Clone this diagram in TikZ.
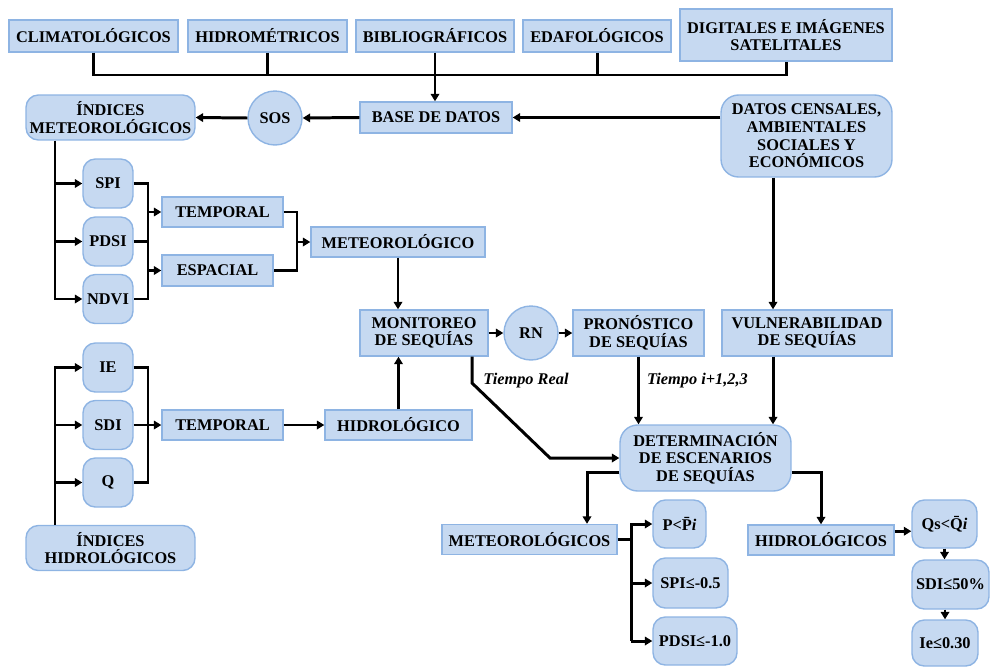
\documentclass[tikz,border=0pt]{standalone}
\usepackage{fontspec}
\setmainfont{Liberation Serif}
\usepackage{tikz}
\usetikzlibrary{shapes, arrows.meta}

\definecolor{boxfill}{RGB}{198,217,241}
\definecolor{boxline}{RGB}{142,180,227}

\begin{document}
\begin{tikzpicture}[x=0.02cm, y=-0.02cm, line width=1.7pt,
	>={Triangle[length=4.2pt,width=4.8pt]},
	box/.style={rectangle, draw=boxline, fill=boxfill, line width=0.8pt, inner sep=0pt, align=center, font=\bfseries\fontsize{9.3}{10}\selectfont},
	rbox/.style={box, rounded corners=7pt},
	cbox/.style={box, circle},
	lbl/.style={font=\bfseries\itshape\fontsize{9.3}{10}\selectfont}]
		\useasboundingbox (0,0) rectangle (990,666);
		% fuentes de datos
		\node at (93.5,36) [box, minimum width=3.38cm, minimum height=0.64cm] (clim) {CLIMATOLÓGICOS};
		\node at (267.5,36) [box, minimum width=3.18cm, minimum height=0.64cm] (hidrom) {HIDROMÉTRICOS};
		\node at (435,36) [box, minimum width=3.16cm, minimum height=0.64cm] (biblio) {BIBLIOGRÁFICOS};
		\node at (597,36) [box, minimum width=2.96cm, minimum height=0.64cm] (edafo) {EDAFOLÓGICOS};
		\node at (786,35) [box, minimum width=4.24cm, minimum height=1.04cm] (digit) {DIGITALES E IMÁGENES\\SATELITALES};
		\coordinate (bus) at (435,75);
		\draw (clim.south) |- (bus) -| (digit.south);
		\draw (hidrom.south) -- (hidrom.south |- bus);
		\draw (edafo.south) -- (edafo.south |- bus);
		\node at (436,117.5) [box, minimum width=3.04cm, minimum height=0.62cm] (base) {BASE DE DATOS};
		\draw[->] (biblio.south) -- (biblio.south |- base.north);
		\node at (275,118) [cbox, minimum size=1.08cm] (sos) {SOS};
		\node at (110.5,117.5) [rbox, minimum width=3.38cm, minimum height=0.9cm] (imet) {ÍNDICES\\METEOROLÓGICOS};
		\node at (806.5,136) [rbox, rounded corners=10pt, minimum width=3.42cm, minimum height=1.64cm] (censo) {DATOS CENSALES,\\AMBIENTALES\\SOCIALES Y\\ECONÓMICOS};
		\draw[->] (censo.west |- base.east) -- (base.east);
		\draw[->] (base.west) -- (sos.east);
		\draw[->] (sos.west) -- (imet.east);
		% indices meteorologicos
		\node at (108,183.5) [rbox, minimum width=1cm, minimum height=0.98cm] (spi) {SPI};
		\node at (108,241.5) [rbox, minimum width=1cm, minimum height=0.98cm] (pdsi) {PDSI};
		\node at (108,299) [rbox, minimum width=1cm, minimum height=0.98cm] (ndvi) {NDVI};
		\coordinate (tm) at (55,0);
		\draw[->] (tm |- imet.south) |- (ndvi.west);
		\draw[->] (tm |- spi.west) -- (spi.west);
		\draw[->] (tm |- pdsi.west) -- (pdsi.west);
		\node at (222.5,212) [box, minimum width=2.42cm, minimum height=0.6cm] (tempm) {TEMPORAL};
		\node at (217.5,270.5) [box, minimum width=2.22cm, minimum height=0.62cm] (espac) {ESPACIAL};
		\coordinate (jm) at (148,0);
		\draw (spi.east) -- (spi.east -| jm) |- (ndvi.east);
		\draw (pdsi.east) -- (pdsi.east -| jm);
		\draw[->] (jm |- tempm.west) -- (tempm.west);
		\draw[->] (jm |- espac.west) -- (espac.west);
		\node at (398,242) [box, minimum width=3.48cm, minimum height=0.6cm] (meteo) {METEOROLÓGICO};
		\coordinate (jt) at (297,0);
		\draw (tempm.east) -- (tempm.east -| jt) |- (espac.east);
		\draw[->] (jt |- meteo.west) -- (meteo.west);
		% indices hidrologicos
		\node at (108,367.5) [rbox, minimum width=1cm, minimum height=0.98cm] (ie) {IE};
		\node at (108,425) [rbox, minimum width=1cm, minimum height=0.98cm] (sdi) {SDI};
		\node at (108,482.5) [rbox, minimum width=1cm, minimum height=0.98cm] (q) {Q};
		\node at (110.5,548) [rbox, minimum width=3.38cm, minimum height=0.9cm] (ihid) {ÍNDICES\\HIDROLÓGICOS};
		\draw[->] (tm |- ihid.north) |- (ie.west);
		\draw[->] (tm |- sdi.west) -- (sdi.west);
		\draw[->] (tm |- q.west) -- (q.west);
		\node at (222.5,425) [box, minimum width=2.42cm, minimum height=0.6cm] (temph) {TEMPORAL};
		\draw (ie.east) -- (ie.east -| jm) |- (q.east);
		\draw[->] (sdi.east) -- (temph.west);
		\node at (398.5,425) [box, minimum width=2.94cm, minimum height=0.6cm] (hidro) {HIDROLÓGICO};
		\draw[->] (temph.east) -- (hidro.west);
		% monitoreo y pronostico
		\node at (424,333) [box, minimum width=2.56cm, minimum height=0.92cm] (monit) {MONITOREO\\DE SEQUÍAS};
		\draw[->] (meteo.south) -- (meteo.south |- monit.north);
		\draw[->] (hidro.north) -- (hidro.north |- monit.south);
		\node at (531,333) [cbox, minimum size=1.08cm] (rn) {RN};
		\node at (638.5,333) [box, minimum width=2.62cm, minimum height=0.92cm] (pron) {PRONÓSTICO\\DE SEQUÍAS};
		\node at (807,333) [box, minimum width=3.4cm, minimum height=0.92cm] (vuln) {VULNERABILIDAD\\DE SEQUÍAS};
		\draw[->] (monit.east) -- (rn.west);
		\draw[->] (rn.east) -- (pron.west);
		\node at (705.5,458) [rbox, rounded corners=10pt, minimum width=3.42cm, minimum height=1.32cm] (determ) {DETERMINACIÓN\\DE ESCENARIOS\\DE SEQUÍAS};
		\coordinate (k1) at (472,383);
		\coordinate (k2) at (550,458);
		\draw[->] (monit.south -| k1) -- (k1) -- (k2) -- (determ.west);
		\node at (526,381) [lbl] (treal) {Tiempo Real};
		\draw[->] (pron.south) -- (pron.south |- determ.north) node[pos=0.36, right, lbl, inner sep=4pt] (tfut) {Tiempo i+1,2,3};
		\coordinate (cv) at (773,0);
		\draw[->] (cv |- censo.south) -- (cv |- vuln.north);
		\draw[->] (cv |- vuln.south) -- (cv |- determ.north);
		% escenarios
		\node at (529.5,539.5) [box, minimum width=3.5cm, minimum height=0.6cm] (meteos) {METEOROLÓGICOS};
		\node at (821,540) [box, minimum width=2.92cm, minimum height=0.6cm] (hidl) {HIDROLÓGICOS};
		\coordinate (dl) at (587,472);
		\coordinate (dr) at (823,472);
		\draw[->] (determ.west |- dl) -| (meteos.north -| dl);
		\draw[->] (determ.east |- dr) -| (hidl.north);
		\node at (679.5,524) [rbox, minimum width=1.06cm, minimum height=0.96cm] (pcond) {P<\={P}\textit{i}};
		\node at (690.5,583) [rbox, minimum width=1.5cm, minimum height=1cm] (spicond) {SPI≤-0.5};
		\node at (695,641) [rbox, minimum width=1.68cm, minimum height=0.96cm] (pdsicond) {PDSI≤-1.0};
		\coordinate (jc) at (631,0);
		\draw (meteos.east) -- (meteos.east -| jc);
		\draw[->] (jc |- pdsicond.west) |- (pcond.west);
		\draw[->] (jc |- spicond.west) -- (spicond.west);
		\draw[->] (jc |- pdsicond.west) -- (pdsicond.west);
		\node at (944.5,524) [rbox, minimum width=1.3cm, minimum height=0.96cm] (qs) {Qs<\={Q}\textit{i}};
		\node at (950.5,584.5) [rbox, minimum width=1.54cm, minimum height=0.98cm] (sdicond) {SDI≤50\%};
		\node at (945,643) [rbox, minimum width=1.32cm, minimum height=0.92cm] (iecond) {Ie≤0.30};
		\draw[->] ([yshift=5pt]hidl.east) -- ([yshift=5pt]hidl.east -| qs.west);
		\draw[->, line width=1.3pt] (qs.south) -- (qs.south |- sdicond.north);
		\draw[->, line width=1.3pt] (iecond.north |- sdicond.south) -- (iecond.north);
	\end{tikzpicture}
\end{document}
